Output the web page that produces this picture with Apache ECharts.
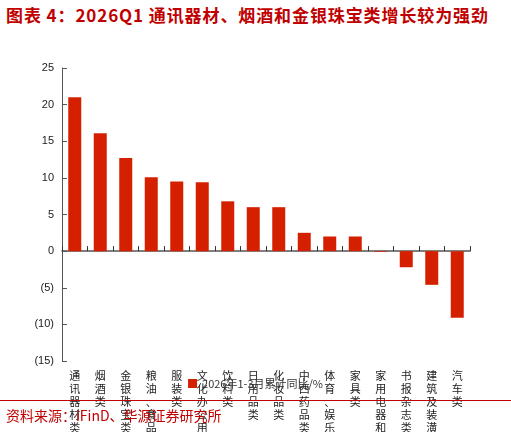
<!DOCTYPE html><html><head><meta charset="utf-8"><script src="https://cdn.jsdelivr.net/npm/echarts@6/dist/echarts.min.js"></script></head><body style="margin:0;background:#fff">
<div style="position:absolute;left:6px;top:3px;width:500px;font:bold 17px 'Noto Sans CJK SC';letter-spacing:0.9px;color:#c00000;line-height:24px">图表 4：2026Q1 通讯器材、烟酒和金银珠宝类增长较为强劲</div>
<div id="c" style="position:absolute;left:0;top:0;width:511px;height:432px"></div>
<div style="position:absolute;left:0;top:400px;width:511px;border-top:1px solid #c00000"></div>
<div style="position:absolute;left:6px;top:405px;font:14px 'Noto Sans CJK SC';color:#c00000">资料来源：iFinD、华源证券研究所</div>
<script>
const categories=['通讯器材类','烟酒类','金银珠宝类','粮油、食品类','服装类','文化办公用品类','饮料类','日用品类','化妆品类','中西药品类','体育、娱乐用品类','家具类','家用电器和音像器材类','书报杂志类','建筑及装潢材料类','汽车类'];
const values=[21.0,16.1,12.7,10.1,9.5,9.4,6.8,6.0,6.0,2.5,2.0,2.0,-0.1,-2.2,-4.6,-9.1];
const seriesName='2026年1-3月累计同比/%';
const c=echarts.init(document.getElementById('c'));
c.setOption({
 animation:false,
 grid:{left:62,right:41,top:68,bottom:71,containLabel:false,outerBoundsMode:'none'},
 legend:{top:373,left:'center',itemWidth:9,itemHeight:9,icon:'rect',textStyle:{fontSize:11,color:'#333',fontFamily:'Noto Sans CJK SC'},data:[seriesName]},
 xAxis:{type:'category',data:categories,axisTick:{show:true,inside:true,lineStyle:{color:'#333'}},axisLine:{onZero:true,lineStyle:{color:'#555',width:1.5}},
  axisLabel:{interval:0,fontSize:11,color:'#222',lineHeight:13,fontFamily:'Noto Sans CJK SC',formatter:v=>v.split('').join('\n'),verticalAlign:'top'}},
 yAxis:{type:'value',min:-15,max:25,interval:5,splitLine:{show:false},axisLine:{show:true,lineStyle:{color:'#555'}},axisTick:{show:true,inside:true},
  axisLabel:{fontSize:11,color:'#222',formatter:v=>v<0?'('+(-v)+')':v}},
 series:[{name:seriesName,type:'bar',data:values,barWidth:13,itemStyle:{color:'#d52000'}}]
});
</script></body></html>
